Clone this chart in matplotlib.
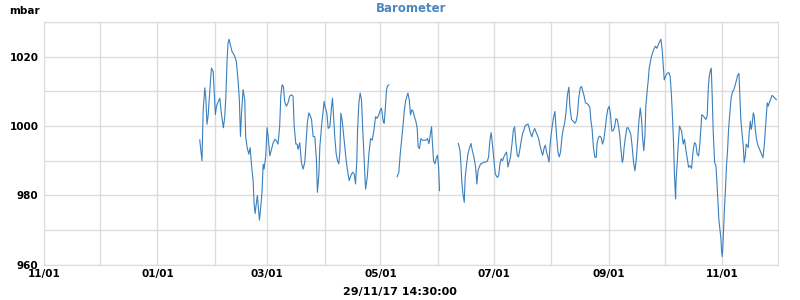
import numpy as np
import pandas as pd
import matplotlib
matplotlib.use("Agg")
import matplotlib.pyplot as plt
import matplotlib.dates as mdates
from matplotlib.ticker import MultipleLocator, FuncFormatter

# Pressão: dias desde 01/11/2016 e valores em mbar
start = pd.Timestamp("2016-11-01")

days_a = [83.8, 85.0, 85.6, 86.5, 87.0, 87.7, 88.3, 89.0, 89.7, 90.1,
          91.0, 91.5, 92.2, 92.8, 93.7, 94.6, 95.5, 96.5, 97.2, 97.8,
          98.5, 99.0, 99.6, 100.3, 101.2, 102.3, 103.5, 104.4, 105.1, 105.7,
          106.2, 107.1, 108.0, 108.5, 109.3, 110.2, 110.9, 111.6, 112.5, 113.0,
          113.6, 114.3, 114.8, 115.4, 115.9, 116.6, 117.3, 117.9, 118.4, 119.3,
          120.0, 120.6, 121.5, 122.4, 123.3, 124.2, 125.1, 125.9, 126.8, 127.4,
          128.1, 128.8, 129.5, 130.4, 131.3, 132.2, 133.1, 134.0, 134.6, 135.5,
          136.2, 136.7, 137.6, 138.5, 139.4, 140.3, 141.2, 141.7, 142.5, 143.0,
          143.9, 144.8,
          145.7, 146.6, 147.1, 147.9, 148.4, 149.3, 150.2, 150.7, 151.4, 152.2,
          152.9, 153.8, 154.7, 155.2, 155.7, 156.5, 157.2, 157.9, 158.6, 159.2,
          159.7, 160.4, 161.1, 161.8, 162.6, 163.3, 164.2, 165.1, 166.0, 166.9,
          167.6, 168.3, 168.7, 169.4, 170.1, 170.8, 171.5, 172.3, 173.0, 173.9,
          174.8, 175.7, 176.6, 177.5, 178.4, 179.2, 180.1, 181.0, 181.6, 182.5,
          183.0, 183.7, 184.3, 184.8, 185.5]
mbar_a = [996, 990, 1004, 1011, 1008.6, 1000.5, 1003, 1008.6, 1014, 1016.7,
          1015.7, 1010.5, 1003.3, 1005.7, 1007, 1008, 1003.3, 999.5, 1002.4, 1008,
          1019, 1023.8, 1025, 1023.3, 1021.4, 1020.5, 1018.6, 1013.3, 1007.6, 997,
          1003, 1010.5, 1007.6, 997, 993.8, 991.9, 993.8, 989, 984.3, 978,
          974.8, 978, 980, 976.2, 972.9, 976.7, 981, 989, 987.6, 991.4,
          999.5, 997, 991.4, 993.3, 995.2, 996.2, 995.7, 994.8, 1000, 1008.6,
          1011.9, 1011.4, 1007, 1005.7, 1006.7, 1008.6, 1009, 1008.6, 1000, 994.8,
          994.8, 993.3, 995.2, 989.5, 987.6, 989.5, 997, 1001, 1003.8, 1003.3,
          1002, 997,
          996.9, 990, 980.9, 986.2, 994, 999.8, 1004.7, 1007.1, 1005.1, 1003.7,
          999.3, 999.8, 1005.6, 1008, 1003.7, 996.4, 992, 990, 989.1, 992.5,
          1003.7, 1001.7, 997.9, 994, 990, 987.2, 984.3, 985.7, 986.7, 986.2,
          983.3, 990, 998.8, 1006.6, 1009.5, 1007.6, 998.8, 990, 981.8, 985.2,
          992, 996.4, 995.9, 998.8, 1002.7, 1002.2, 1003.2, 1004.7, 1005.1, 1001.3,
          1000.8, 1005.6, 1010.5, 1011.5, 1011.9]

days_b = [190.0, 190.9, 191.6, 192.3, 193.1, 193.8, 194.5, 195.2, 195.8, 196.5,
          197.2, 197.9, 198.6, 199.3, 200.1, 200.8, 201.3, 202.0, 202.8, 203.6,
          204.5, 205.4, 206.3, 207.1, 207.8, 208.5, 209.0, 209.6, 210.3, 211.0,
          211.7, 212.3, 212.8]
mbar_b = [985.4, 986.7, 991.6, 995.4, 999.8, 1004.2, 1007.1, 1008.5, 1009.5, 1007.6,
          1003.2, 1004.7, 1004.2, 1002.7, 1001.3, 999.3, 994, 993.5, 996.4, 995.9,
          995.9, 995.9, 996.4, 994.9, 997.4, 999.8, 994.9, 990, 989.1, 990.6,
          991.6, 988.2, 981.4]

days_c = [222.9, 223.8, 224.3, 224.8, 225.4, 226.1, 226.6, 227.4, 228.1, 228.8,
          229.7, 230.4, 231.3, 232.2, 232.9, 233.5, 234.2, 234.9, 235.8, 236.7,
          237.6, 238.5, 239.2, 239.9, 240.6, 241.2, 242.1, 242.8, 243.9, 244.6,
          245.3, 246.0, 246.7, 247.4, 248.2, 248.9, 249.6, 250.3, 251.0, 251.8,
          252.5, 253.2, 253.9, 254.6, 255.3, 256.1, 256.8, 257.5, 258.2, 258.9,
          259.6, 260.4, 261.1, 261.8, 262.5, 263.2, 264.0, 264.7, 265.4, 266.1,
          266.8, 267.5, 268.3, 269.0, 269.7, 270.4, 271.1, 271.7, 272.2, 272.7,
          273.5, 274.2, 274.9, 275.4, 276.0, 276.5, 277.2, 277.9, 278.7, 279.4,
          280.1, 280.8,
          281.6, 282.4, 282.9, 283.8, 284.7, 285.6, 286.3, 287.0, 287.7, 288.5,
          289.2, 289.9, 290.6, 291.3, 292.0, 292.8, 293.7, 294.2, 294.9, 295.6,
          296.4, 297.1, 297.6, 298.3, 299.0, 299.8, 300.5, 301.2, 301.9, 302.6,
          303.3, 304.1, 304.8, 305.5, 306.2, 306.9, 307.7, 308.4, 309.1, 309.8,
          310.3, 311.1, 311.6, 312.1, 312.9, 313.6, 314.3, 315.0, 315.7, 316.4,
          317.2, 317.9, 318.6, 319.3, 320.0, 320.8, 321.5, 322.0, 322.7, 323.3,
          323.8, 324.5, 325.1, 325.6, 326.3, 326.8, 327.6, 328.3, 329.0, 329.7,
          330.4, 331.2, 331.9, 332.6, 333.1, 333.7, 334.4, 335.3, 336.2, 336.9,
          337.6, 338.2, 338.7, 339.2, 339.8, 340.1, 340.7, 341.2, 341.9,
          343.0, 343.9, 344.6, 345.3, 346.1, 346.8, 347.5, 348.4, 349.3, 350.0,
          350.7, 351.4, 352.2, 352.9, 353.4, 353.9, 354.7, 355.4, 356.1, 356.8,
          357.4, 357.9, 358.4, 359.0, 359.5, 360.0, 360.8, 361.5, 362.0, 362.6,
          363.1, 363.6, 364.2, 364.5, 364.9, 365.2, 365.6, 366.1, 366.7, 367.2,
          367.8, 368.3, 369.0, 369.7, 370.5, 371.2, 371.9, 372.6, 373.1, 373.9,
          374.4, 374.9, 375.5, 376.2, 376.7, 377.3, 377.8, 378.3, 378.9, 379.4,
          380.0, 380.5, 381.0, 381.6, 382.1, 382.7, 383.2, 383.9, 384.6, 385.3,
          386.1, 386.8, 387.5, 388.0, 388.6, 389.1, 389.6, 390.2, 390.9, 391.6,
          392.3, 393.1, 394.0]
mbar_c = [995, 993, 989.1, 983.8, 980.4, 978, 985.2, 989.1, 992, 993.5,
          995, 993, 991.1, 988.2, 983.3, 987.2, 988.2, 989.1, 989.3, 989.6,
          989.6, 989.9, 991.1, 995.9, 998.1, 995, 990, 986.2, 985.2, 985.7,
          989.1, 990.6, 990, 991.1, 992, 992.5, 988.2, 989.6, 991.1, 995,
          998.8, 999.8, 995, 991.6, 991.1, 993.5, 995.9, 997.9, 998.8, 1000.2,
          1000.3, 1000.6, 999.3, 997.9, 996.9, 998.3, 999.3, 998.3, 997.4, 996.4,
          994.5, 993, 991.6, 993.5, 994.5, 992.5, 991.1, 989.6, 994, 996.9,
          1000.3, 1002.7, 1004.2, 999.8, 995.9, 992.5, 991.1, 992.5, 996.9, 999.3,
          1000.8, 1003.7,
          1009, 1011.2, 1005.7, 1001.9, 1001.4, 1000.8, 1001.4, 1003.3, 1008.1, 1011,
          1011.4, 1010, 1008.6, 1006.7, 1006.5, 1006.2, 1005.2, 1001.9, 999, 993.8,
          991, 991, 995.2, 996.7, 997.1, 996.7, 994.8, 996.2, 999, 1002.4,
          1004.8, 1005.7, 1003.3, 998.6, 998.6, 999.5, 1002.1, 1001.9, 1000, 997.1,
          993.8, 989.5, 990.5, 993.8, 997.1, 999.5, 999.5, 998.6, 997.6, 994.3,
          989.5, 987.1, 990, 995.2, 1001, 1005.2, 1001.9, 997.1, 992.9, 997.1,
          1005.7, 1010, 1013.3, 1016.7, 1018.6, 1020, 1021.4, 1022.4, 1023, 1022.4,
          1023.3, 1024.3, 1025, 1021.9, 1018.1, 1013.3, 1014.3, 1015.2, 1015.4, 1014.3,
          1008.6, 1001.9, 995.2, 985.7, 979, 984.8, 989.5, 994.3, 1000,
          998.6, 994.8, 996.2, 993.3, 990.5, 988.1, 988.6, 987.8, 993.3, 995.2,
          994.8, 991.9, 991.4, 995.2, 999.5, 1003.3, 1002.9, 1002.4, 1001.9, 1002.9,
          1011, 1014.3, 1015.7, 1016.7, 1008.6, 999, 989.5, 988.6, 984.3, 978.1,
          972.9, 970.5, 967.6, 964.3, 962.4, 964.8, 970, 976.2, 982.4, 988.6,
          993.3, 999, 1003.8, 1008.1, 1010, 1010.5, 1011.9, 1013.3, 1014.5, 1015.2,
          1008.6, 1001.9, 998.1, 994.3, 989.5, 991.4, 994.8, 994.3, 993.8, 998.1,
          1001.4, 999, 1000.5, 1003.8, 1002.9, 999, 996.7, 994.8, 993.8, 992.9,
          991.9, 990.9, 994.3, 998.1, 1002.9, 1006.7, 1005.7, 1006.7, 1007.6, 1008.8,
          1008.6, 1008.1, 1007.6]

line_color = "#3a80be"
grid_color = "#dcdcdc"

fig = plt.figure(figsize=(8, 3), dpi=100)
ax = fig.add_axes([0.055, 0.117, 0.9175, 0.81])

for d, v in [(days_a, mbar_a), (days_b, mbar_b), (days_c, mbar_c)]:
    t = start + pd.to_timedelta(np.array(d), unit="D")
    ax.plot(t, v, color=line_color, linewidth=0.8)

ax.set_xlim(start, start + pd.Timedelta(days=394.9))
ax.set_ylim(960, 1030)

# grade mensal, rótulos a cada dois meses
ax.xaxis.set_major_locator(mdates.MonthLocator(bymonth=[1, 3, 5, 7, 9, 11]))
ax.xaxis.set_minor_locator(mdates.MonthLocator())
ax.xaxis.set_major_formatter(mdates.DateFormatter("%m/%d"))
ax.yaxis.set_major_locator(MultipleLocator(10))
ax.yaxis.set_major_formatter(FuncFormatter(lambda v, p: f"{v:.0f}" if v % 20 == 0 and v < 1030 else ""))

ax.grid(True, which="both", color=grid_color, linewidth=1)
ax.set_axisbelow(True)
for s in ax.spines.values():
    s.set_color(grid_color)
ax.tick_params(which="both", length=0, labelsize=7.5, colors="black")
ax.tick_params(axis="x", pad=3)
ax.tick_params(axis="y", pad=4)
for lab in ax.get_xticklabels() + ax.get_yticklabels():
    lab.set_fontweight("semibold")

ax.set_title("Barometer", color="#4a86c0", fontsize=8.5, fontweight="bold", pad=7)
fig.text(0.012, 0.965, "mbar", fontsize=7.5, fontweight="bold", va="center")
fig.text(0.5, 0.025, "29/11/17 14:30:00", fontsize=8, fontweight="bold", ha="center", va="center")

plt.savefig("out.png", dpi=100)
